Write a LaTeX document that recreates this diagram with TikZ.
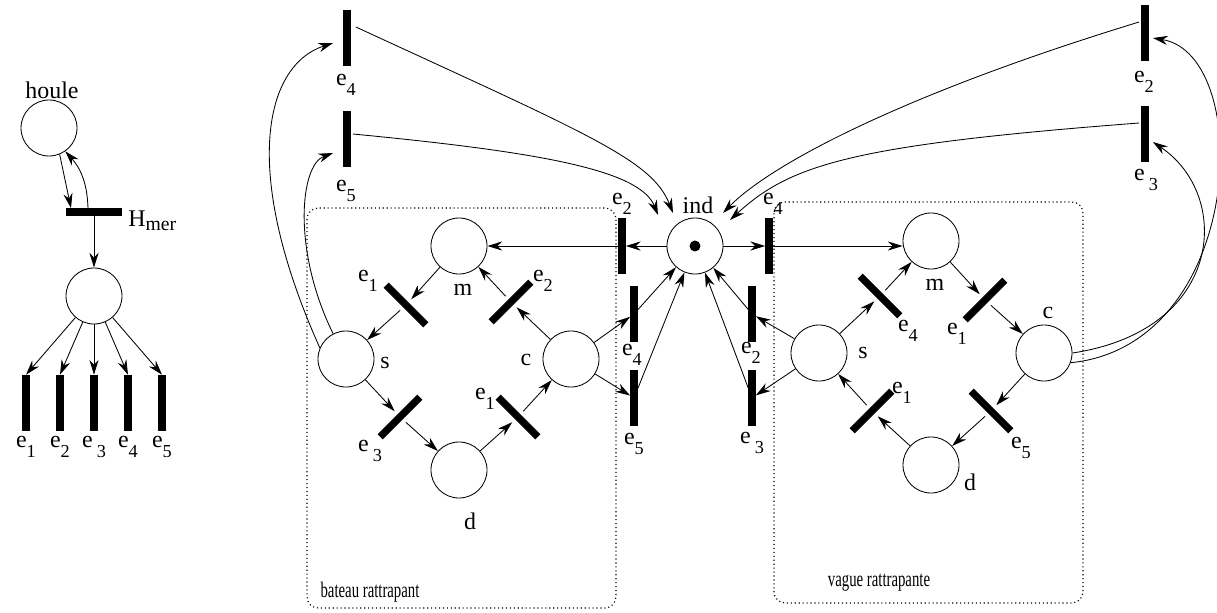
\documentclass[tikz,border=0pt]{standalone}
\usepackage{fontspec}
\setmainfont{Liberation Serif}
\usetikzlibrary{arrows.meta, positioning, calc}
\newcommand{\evt}[1]{e\raisebox{-7.5pt}{\fontsize{13}{14}\selectfont #1}}

\begin{document}
\begin{tikzpicture}[x=0.025cm, y=-0.025cm,
  font=\fontsize{17}{20}\selectfont,
  place/.style={circle, draw, line width=0.6pt, minimum size=1.4cm, inner sep=0pt},
  vbar/.style={rectangle, fill=black, minimum width=0.18cm, minimum height=1.4cm, inner sep=0pt},
  hbar/.style={rectangle, fill=black, minimum width=1.4cm, minimum height=0.18cm, inner sep=0pt},
  dbar/.style={vbar, outer sep=3pt},
  txt/.style={inner sep=0pt},
  arc/.style={-{Stealth[length=10.5pt, width=6.5pt]}, line width=0.6pt},
  box/.style={dotted, line width=0.8pt, rounded corners=8pt},
  boxtxt/.style={txt, font=\fontsize{10.5}{12}\selectfont}
]
  \useasboundingbox (0,0) rectangle (1217,612);

  % houle et transitions de mer
  \node[place] (houle) at (49,128) {};
  \node[txt] (l-houle) at (52,90) {houle};
  \node[hbar] (hmer) at (94,212) {};
  \node[txt, anchor=west] (l-hmer) at (128,221) {H\raisebox{-2.5pt}{\fontsize{14}{16}\selectfont mer}};
  \node[place] (pmer) at (94,296) {};
  \draw[arc] (houle.-68) -- ($(hmer.north)+(-23,0)$);
  \draw[arc] ($(hmer.north)+(-6,0)$) to[bend right=20] (houle.-55);
  \draw[arc] (hmer) -- (pmer);
  \foreach \i/\x/\s in {1/26/1, 2/60/2, 3/94/{\kern3pt 3}, 4/128/4, 5/162/5} {
    \node[vbar] (h\i) at (\x,403) {};
    \node[txt, below=3pt of h\i] (l-h\i) {\evt{\s}};
    \draw[arc] (pmer) -- (h\i.north);
  }

  % bateau rattrapant
  \node[place] (bm) at (459,246) {};
  \node[place] (bs) at (346,359) {};
  \node[place] (bc) at (571,359) {};
  \node[place] (bd) at (459,470) {};
  \node[dbar, rotate=45] (b1) at (406,305) {};
  \node[dbar, rotate=-45] (b2) at (511,302) {};
  \node[dbar, rotate=-45] (b3) at (400,417) {};
  \node[dbar, rotate=45] (b4) at (518,417) {};
  \node[txt] (l-bm) at (463,290) {m};
  \node[txt] (l-bs) at (385,363) {s};
  \node[txt] (l-bc) at (526,360) {c};
  \node[txt] (l-bd) at (470,521) {d};
  \node[txt] (l-b1) at (368,281) {\evt{1}};
  \node[txt] (l-b2) at (543,281) {\evt{2}};
  \node[txt] (l-b3) at (370,451) {\evt{\kern3pt 3}};
  \node[txt] (l-b4) at (485,399) {\evt{1}};
  \foreach \a/\b in {bm/b1, b1/bs, bs/b3, b3/bd, bd/b4, b4/bc, bc/b2, b2/bm}
    \draw[arc] (\a) -- (\b);
  \draw[box] (307,208) rectangle (616,608);
  \node[boxtxt] (l-bateau) at (370,592) {\scalebox{1}[1.5]{bateau rattrapant}};

  % vague rattrapante
  \node[place] (vm) at (931,241) {};
  \node[place] (vs) at (819,353) {};
  \node[place] (vc) at (1044,353) {};
  \node[place] (vd) at (931,465) {};
  \node[dbar, rotate=45] (v4) at (880,296) {};
  \node[dbar, rotate=-45] (v1) at (985,300) {};
  \node[dbar, rotate=-45] (v1b) at (872,411) {};
  \node[dbar, rotate=45] (v5) at (991,411) {};
  \node[txt] (l-vm) at (935,285) {m};
  \node[txt] (l-vs) at (863,353) {s};
  \node[txt] (l-vc) at (1048,313) {c};
  \node[txt] (l-vd) at (970,482) {d};
  \node[txt] (l-v4) at (908,331) {\evt{4}};
  \node[txt] (l-v1) at (957,334) {\evt{1}};
  \node[txt] (l-v1b) at (902,393) {\evt{1}};
  \node[txt] (l-v5) at (1021,448) {\evt{5}};
  \foreach \a/\b in {vs/v4, v4/vm, vm/v1, v1/vc, vc/v5, v5/vd, vd/v1b, v1b/vs}
    \draw[arc] (\a) -- (\b);
  \draw[box] (774,202) rectangle (1083,603);
  \node[boxtxt] (l-vague) at (879,583) {\scalebox{1}[1.5]{vague rattrapante}};

  % indicateur
  \node[place] (ind) at (695,246) {};
  \node[circle, fill, minimum size=7.8pt, inner sep=0pt] (tok) at (ind) {};
  \node[txt] (l-ind) at (698,205) {ind};
  \node[vbar] (ce2) at (622,246) {};
  \node[vbar] (ce4) at (769,246) {};
  \node[vbar] (cl4) at (634,314) {};
  \node[vbar] (cl5) at (634,398) {};
  \node[vbar] (cr2) at (752,314) {};
  \node[vbar] (cr3) at (752,398) {};
  \node[txt] (l-ce2) at (622,204) {\evt{2}};
  \node[txt] (l-ce4) at (773,204) {\evt{4}};
  \node[txt] (l-cl4) at (632,355) {\evt{4}};
  \node[txt] (l-cl5) at (634,444) {\evt{5}};
  \node[txt] (l-cr2) at (751,353) {\evt{2}};
  \node[txt] (l-cr3) at (752,443) {\evt{\kern3pt 3}};
  \draw[arc] (ind) -- (ce2);
  \draw[arc] (ce2) -- (bm);
  \draw[arc] (ind) -- (ce4);
  \draw[arc] (ce4) -- (ce4 -| vm.west);
  \draw[arc] (bc) -- (cl4);
  \draw[arc] (cl4) -- (ind);
  \draw[arc] (bc) -- (cl5);
  \draw[arc] (cl5) -- (ind);
  \draw[arc] (vs) -- (cr2);
  \draw[arc] (cr2) -- (ind);
  \draw[arc] (vs) -- (cr3);
  \draw[arc] (cr3) -- (ind);

  % transitions du haut
  \node[vbar] (te4) at (347,38) {};
  \node[vbar] (te5) at (347,139) {};
  \node[vbar] (tr2) at (1145,33) {};
  \node[vbar] (tr3) at (1145,134) {};
  \node[txt] (l-te4) at (346,85) {\evt{4}};
  \node[txt] (l-te5) at (346,191) {\evt{5}};
  \node[txt] (l-tr2) at (1144,82) {\evt{2}};
  \node[txt] (l-tr3) at (1146,180) {\evt{\kern3pt 3}};
  \draw[arc] (bs.157) .. controls (240,170) and (265,65) .. ($(te4.west)+(-10,5)$);
  \draw[arc] (bs.117) .. controls (292,250) and (300,165) .. ($(te5.west)+(-10,14)$);
  \draw[arc] ($(te4.east)+(5,-11)$) .. controls (590,135) and (652,160) .. ($(ind)+(-22,-33)$);
  \draw[arc] ($(te5.east)+(2,-5)$) .. controls (540,152) and (640,170) .. ($(ind)+(-37,-31)$);
  \draw[arc] ($(tr2.west)+(-2,-11)$) .. controls (900,95) and (770,165) .. ($(ind)+(28,-33)$);
  \draw[arc] ($(tr3.west)+(-2,-11)$) .. controls (850,145) and (790,165) .. ($(ind)+(35,-26)$);
  \draw[arc] (vc.-20) .. controls (1245,345) and (1255,55) .. ($(tr2.east)+(4,5)$);
  \draw[arc] (vc.east) .. controls (1225,330) and (1232,195) .. ($(tr3.east)+(4,8)$);
\end{tikzpicture}
\end{document}
